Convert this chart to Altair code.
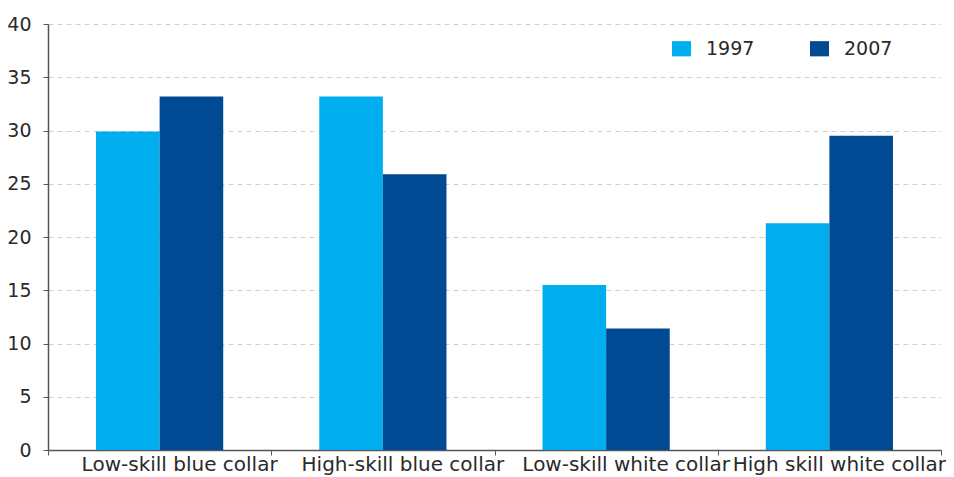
import altair as alt
import pandas as pd

categories = ["Low-skill blue collar", "High-skill blue collar", "Low-skill white collar", "High skill white collar"]
years = ["1997", "2007"]
values_1997 = [29.9, 33.2, 15.5, 21.3]
values_2007 = [33.2, 25.9, 11.4, 29.5]

rows = []
for c, a, b in zip(categories, values_1997, values_2007):
    rows.append({"category": c, "year": "1997", "value": a})
    rows.append({"category": c, "year": "2007", "value": b})
df = pd.DataFrame(rows)
cat_df = pd.DataFrame({"category": categories})

font = "DejaVu Sans"

xenc = alt.X("category:N", sort=categories, title=None,
             scale=alt.Scale(paddingInner=0, paddingOuter=0),
             axis=alt.Axis(labels=False, tickBand="extent", domainColor="#555", tickColor="#555",
                           domainWidth=1.5, tickSize=5, grid=False))

bars = alt.Chart(df).mark_bar().encode(
    x=xenc,
    xOffset=alt.XOffset("year:N", sort=years, scale=alt.Scale(paddingInner=0, paddingOuter=0.755)),
    y=alt.Y("value:Q", title=None,
            scale=alt.Scale(domain=[0, 40]),
            axis=alt.Axis(values=[0, 5, 10, 15, 20, 25, 30, 35, 40], grid=True, gridDash=[5, 4],
                          gridColor="#d0d0d0", gridWidth=1.2, domainColor="#555", domainWidth=1.5,
                          tickColor="#555", tickSize=5, labelFontSize=19, labelColor="#2a2a2a",
                          labelFont=font, labelPadding=12)),
    color=alt.Color("year:N", sort=years,
                    scale=alt.Scale(domain=years, range=["#00AEEF", "#004A93"]),
                    legend=alt.Legend(title=None, orient="none", legendX=624, legendY=15,
                                      direction="horizontal", symbolType="M-1,-0.8H1V0.8H-1Z",
                                      symbolSize=361, symbolStrokeWidth=0, labelFontSize=19,
                                      labelFont=font, labelColor="#2a2a2a", columnPadding=55,
                                      labelOffset=15)),
)

last_cat = categories[-1]

labels_main = alt.Chart(cat_df).transform_filter(
    alt.datum.category != last_cat
).mark_text(
    font=font, fontSize=20, color="#2a2a2a", baseline="top", align="center", dx=20
).encode(
    x=alt.X("category:N", sort=categories),
    y=alt.value(431),
    text="category:N",
)

labels_last = alt.Chart(cat_df).transform_filter(
    alt.datum.category == last_cat
).mark_text(
    font=font, fontSize=20, color="#2a2a2a", baseline="top", align="center", dx=10
).encode(
    x=alt.X("category:N", sort=categories),
    y=alt.value(431),
    text="category:N",
)

chart = alt.layer(bars, labels_main, labels_last).properties(
    width=893, height=426,
    autosize=alt.AutoSizeParams(type="none"),
    padding={"left": 40, "top": 16, "right": 5, "bottom": 30},
).configure_view(stroke=None)

chart.save("out.html", embed_options={"renderer": "svg", "actions": False})
